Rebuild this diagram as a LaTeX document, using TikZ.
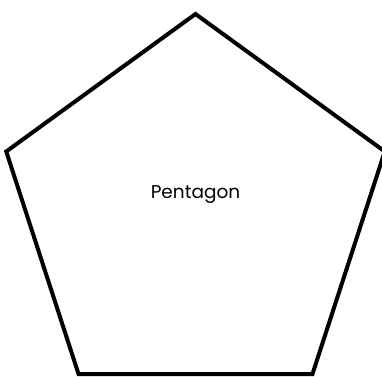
\documentclass[tikz,border=0pt]{standalone}
\usepackage{fontspec}
\setmainfont{Poppins}
\usetikzlibrary{shapes.geometric,positioning}

\begin{document}
\begin{tikzpicture}[
  x=1pt, y=1pt,
  shapebox/.style={draw, regular polygon, regular polygon sides=5, minimum size=398pt, inner sep=0pt, line width=4pt, line join=miter},
  caption/.style={font=\fontsize{18.5}{20}\selectfont, inner sep=0pt}
]
\useasboundingbox (0,0) rectangle (382,376);
\node[shapebox] (pent) at (195.5,163) {};
\node[caption, anchor=base] (title) at ([yshift=15pt]pent.center) {Pentagon};
\end{tikzpicture}
\end{document}
